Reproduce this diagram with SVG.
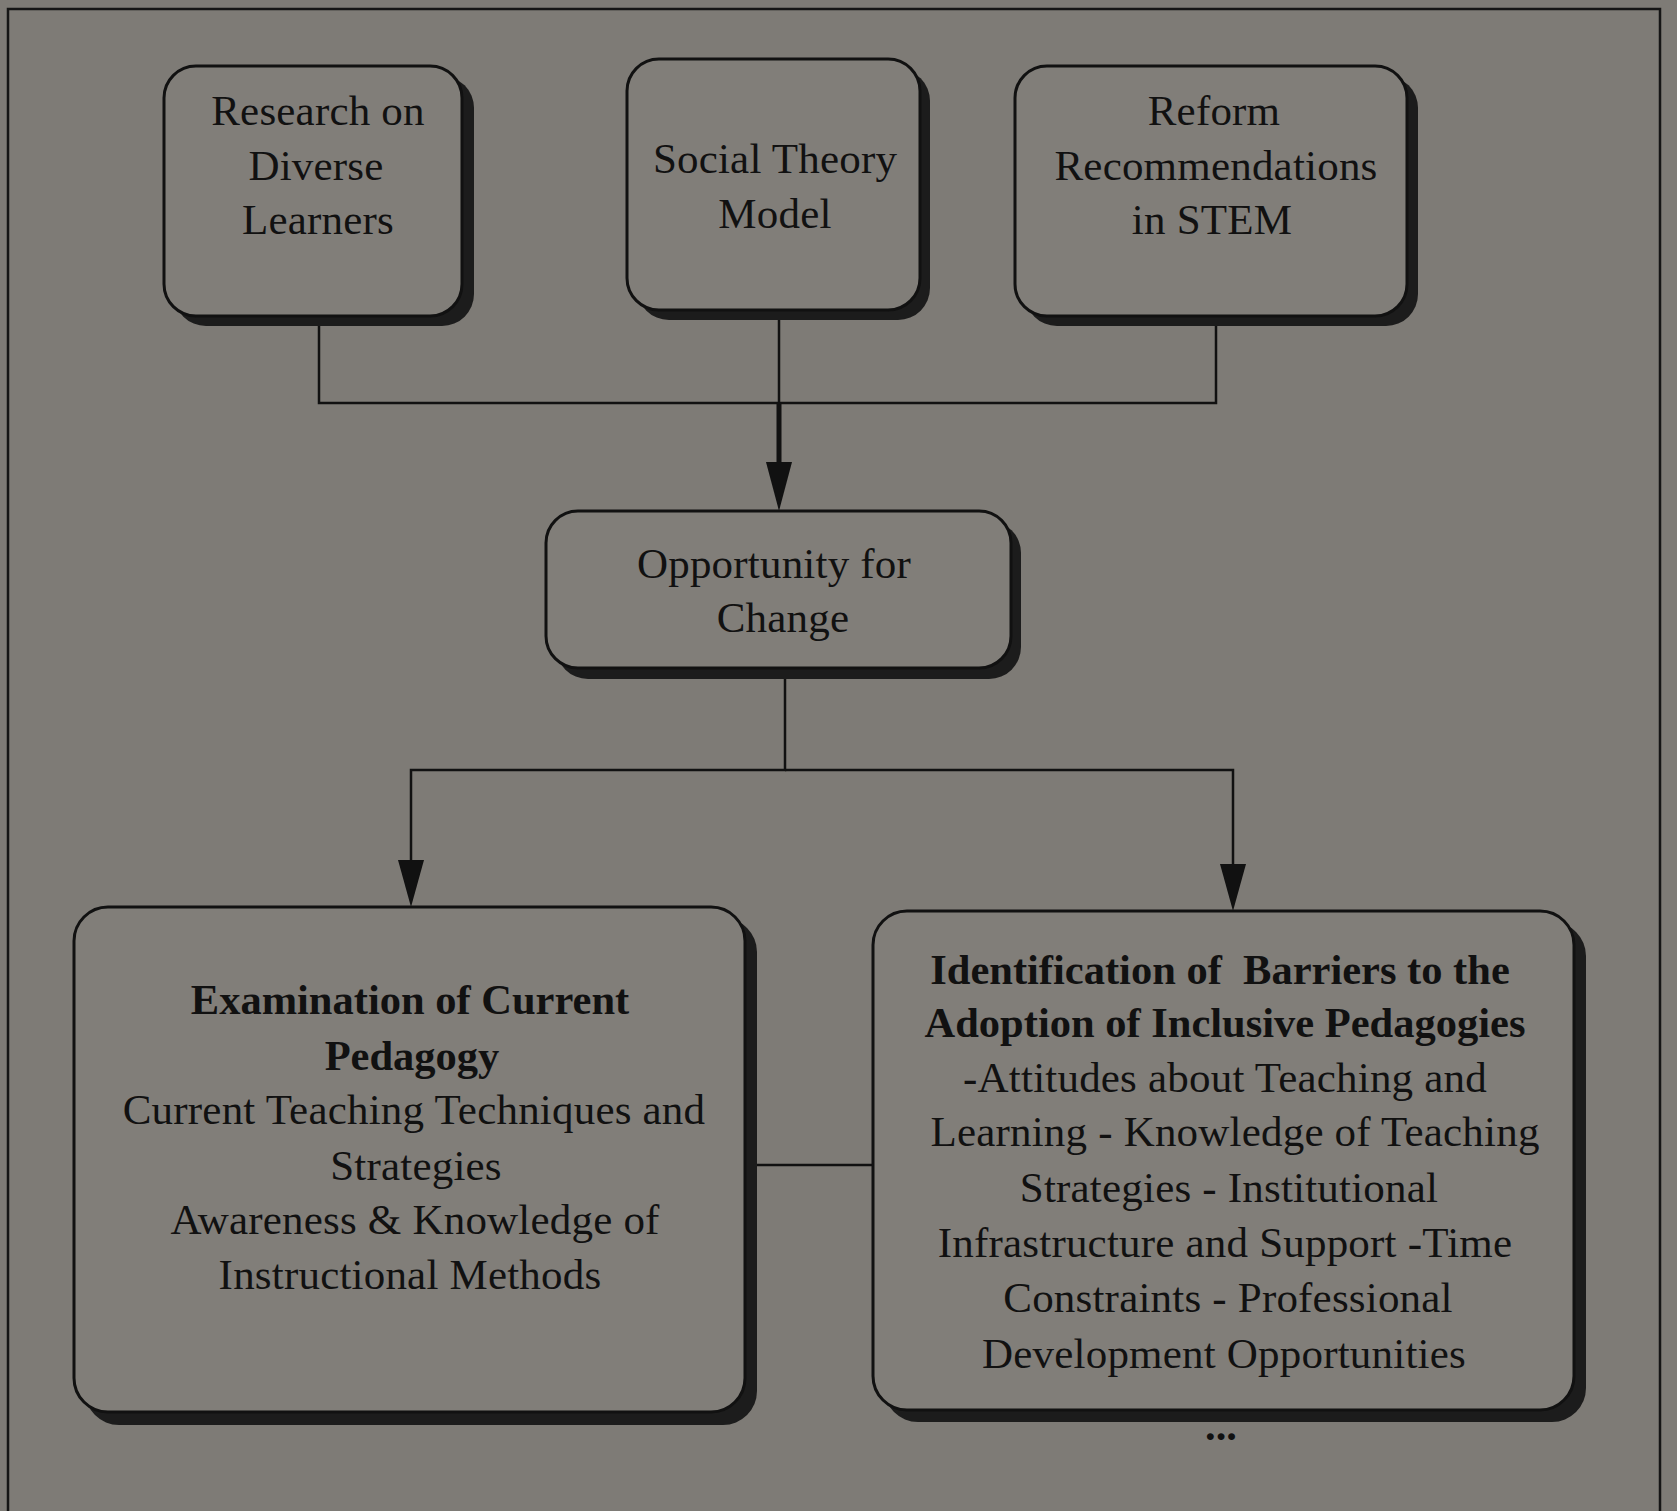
<svg xmlns="http://www.w3.org/2000/svg" width="1677" height="1511" viewBox="0 0 1677 1511">
<defs>
<style>
.bg{fill:#7e7b76}
.frame{fill:none;stroke:#151515;stroke-width:2.5}
.shadow{fill:#1c1c1c}
.box{fill:#817e79;stroke:#111;stroke-width:3}
.t{font-family:"Liberation Serif","Times New Roman",serif;font-size:43px;letter-spacing:0.2px;fill:#111;text-anchor:middle}
.b{font-weight:bold;font-size:42.5px;letter-spacing:0}
.conn{fill:none;stroke:#111;stroke-width:2.5}
.thick{stroke-width:5}
</style>
</defs>
<rect class="bg" x="0" y="0" width="1677" height="1511"/>
<rect class="frame" x="8" y="9" width="1652" height="1510"/>

<g id="connectors">
<path class="conn" d="M319,326 V403 H1216 V326"/>
<path class="conn" d="M779,318 V403"/>
<path class="conn thick" d="M779,403 V462"/>
<path d="M766,462 L792,462 L779,511 Z" fill="#111"/>
<path class="conn" d="M785,679 V770 H411 V862"/>
<path class="conn" d="M785,770 H1233 V866"/>
<path d="M398,860 L424,860 L411,907 Z" fill="#111"/>
<path d="M1220,864 L1246,864 L1233,911 Z" fill="#111"/>
<path class="conn" d="M757,1165 H873"/>
</g>

<g id="node-research">
<rect class="shadow" x="174" y="76" width="300" height="250" rx="32"/>
<rect class="box" x="164" y="66" width="298" height="250" rx="32"/>
<text class="t" x="318" y="125">Research on</text>
<text class="t" x="316" y="180">Diverse</text>
<text class="t" x="318" y="234">Learners</text>
</g>

<g id="node-social">
<rect class="shadow" x="637" y="69" width="293" height="251" rx="32"/>
<rect class="box" x="627" y="59" width="293" height="251" rx="32"/>
<text class="t" x="775" y="173">Social Theory</text>
<text class="t" x="775" y="228">Model</text>
</g>

<g id="node-reform">
<rect class="shadow" x="1025" y="76" width="393" height="250" rx="32"/>
<rect class="box" x="1015" y="66" width="392" height="250" rx="32"/>
<text class="t" x="1214" y="125">Reform</text>
<text class="t" x="1216" y="180">Recommendations</text>
<text class="t" x="1212" y="234">in STEM</text>
</g>

<g id="node-opportunity">
<rect class="shadow" x="556" y="521" width="465" height="158" rx="32"/>
<rect class="box" x="546" y="511" width="465" height="157" rx="32"/>
<text class="t" x="774" y="578">Opportunity for</text>
<text class="t" x="783" y="632">Change</text>
</g>

<g id="node-examination">
<rect class="shadow" x="85" y="918" width="672" height="507" rx="34"/>
<rect class="box" x="74" y="907" width="671" height="505" rx="34"/>
<text class="t b" x="410" y="1014">Examination of Current</text>
<text class="t b" x="412" y="1070">Pedagogy</text>
<text class="t" x="414" y="1124">Current Teaching Techniques and</text>
<text class="t" x="416" y="1180">Strategies</text>
<text class="t" x="415" y="1234">Awareness &amp; Knowledge of</text>
<text class="t" x="410" y="1289">Instructional Methods</text>
</g>

<g id="node-barriers">
<rect class="shadow" x="884" y="922" width="702" height="500" rx="34"/>
<rect class="box" x="873" y="911" width="701" height="499" rx="34"/>
<text class="t b" x="1220" y="984" xml:space="preserve">Identification of  Barriers to the</text>
<text class="t b" x="1225" y="1037">Adoption of Inclusive Pedagogies</text>
<text class="t" x="1225" y="1092">-Attitudes about Teaching and</text>
<text class="t" x="1235" y="1146">Learning - Knowledge of Teaching</text>
<text class="t" x="1229" y="1202">Strategies - Institutional</text>
<text class="t" x="1225" y="1257">Infrastructure and Support -Time</text>
<text class="t" x="1228" y="1312">Constraints - Professional</text>
<text class="t" x="1224" y="1368">Development Opportunities</text>
<text class="t b" x="1221" y="1440">...</text>
</g>
</svg>
